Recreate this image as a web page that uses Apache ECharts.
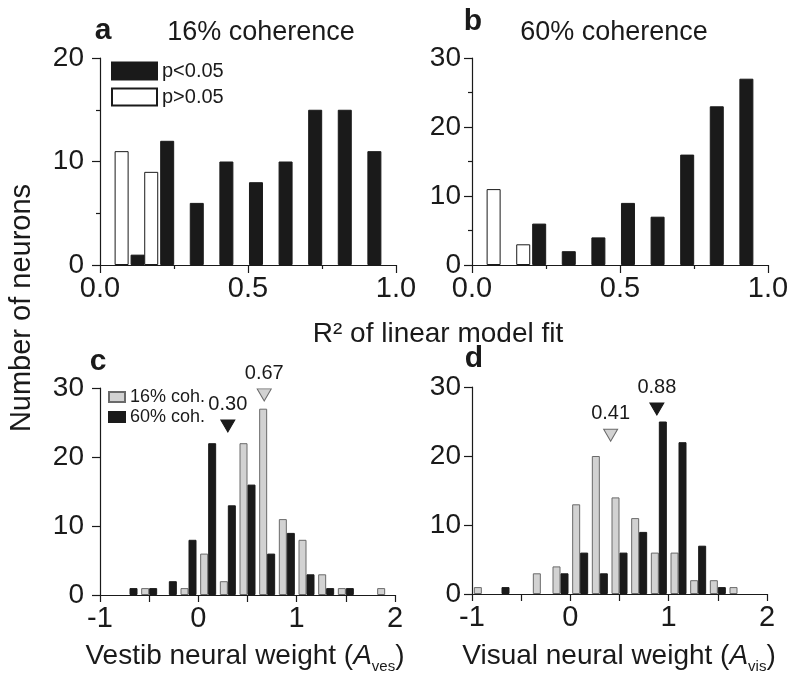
<!DOCTYPE html>
<html lang="en">
<head>
<meta charset="UTF-8">
<title>Linear model fit and neural weights</title>
<style>
  html, body { margin: 0; padding: 0; background: #fff; }
  #main { width: 800px; height: 680px; }
</style>
</head>
<body>
<div id="main"></div>
<script src="https://cdn.jsdelivr.net/npm/echarts@6/dist/echarts.min.js"></script>
<script>
// R^2 histograms (bins centred on 0.1 ... 0.9)
var binsR2 = [0.1, 0.2, 0.3, 0.4, 0.5, 0.6, 0.7, 0.8, 0.9];
var a16Sig = [1, 12, 6, 10, 8, 10, 15, 15, 11];
var a16NotSig = [11, 9, 0, 0, 0, 0, 0, 0, 0];
var b60Sig = [0, 6, 2, 4, 9, 7, 16, 23, 27];
var b60NotSig = [11, 3, 0, 0, 0, 0, 0, 0, 0];

// neural weight histograms (bins centred on -0.9 ... 1.9)
var binsW = [-0.9, -0.7, -0.5, -0.3, -0.1, 0.1, 0.3, 0.5, 0.7, 0.9, 1.1, 1.3, 1.5, 1.7, 1.9];
var vesLow = [0, 0, 1, 0, 1, 6, 2, 22, 27, 11, 8, 3, 1, 0, 1];
var vesHigh = [0, 1, 1, 2, 8, 22, 13, 16, 6, 9, 3, 1, 1, 0, 0];
var visLow = [1, 0, 0, 3, 4, 13, 20, 14, 11, 6, 6, 2, 2, 1, 0];
var visHigh = [0, 1, 0, 0, 3, 6, 3, 6, 9, 25, 22, 7, 1, 0, 0];

// medians, drawn as triangles above the bars
var vesMedian = [0.67, 0.30];   // 16%, 60%
var vesMarkY = [29, 24.5];
var visMedian = [0.41, 0.88];
var visMarkY = [23, 26.8];

var FONT = 'Liberation Sans';
var INK = '#1a1a1a';

function pairs(bins, vals) {
    var out = [];
    for (var i = 0; i < bins.length; i++) {
        if (vals[i] > 0) out.push([bins[i], vals[i]]);
    }
    return out;
}

function xAxisR2(idx) {
    return {
        type: 'value', gridIndex: idx, min: 0, max: 1, interval: 0.5,
        axisLine: { onZero: false, lineStyle: { color: INK, width: 1.2 } },
        axisTick: { length: 8, lineStyle: { color: INK, width: 1.2 } },
        minorTick: { show: true, splitNumber: 2, length: 4, lineStyle: { color: INK, width: 1.2 } },
        splitLine: { show: false },
        axisLabel: { fontFamily: FONT, fontSize: 29, color: INK, margin: 9,
            formatter: function (v) { return v.toFixed(1); } }
    };
}
function xAxisW(idx) {
    return {
        type: 'value', gridIndex: idx, min: -1, max: 2, interval: 0.5,
        axisLine: { onZero: false, lineStyle: { color: INK, width: 1.2 } },
        axisTick: { length: 7, lineStyle: { color: INK, width: 1.2 } },
        splitLine: { show: false },
        axisLabel: { fontFamily: FONT, fontSize: 29, color: INK, margin: 9,
            formatter: function (v) { return v % 1 === 0 ? String(v) : ''; } }
    };
}
function yAxis(idx, max, minor, margin) {
    return {
        type: 'value', gridIndex: idx, min: 0, max: max, interval: 10,
        axisLine: { show: true, onZero: false, lineStyle: { color: INK, width: 1.2 } },
        axisTick: { show: true, length: 8, lineStyle: { color: INK, width: 1.2 } },
        minorTick: { show: minor, splitNumber: 2, length: 4, lineStyle: { color: INK, width: 1.2 } },
        splitLine: { show: false },
        axisLabel: { fontFamily: FONT, fontSize: 28, color: INK, margin: margin }
    };
}

var blackStyle = { color: INK, borderColor: INK, borderWidth: 1, opacity: 1 };
var whiteStyle = { color: '#ffffff', borderColor: INK, borderWidth: 1, opacity: 1 };
var grayStyle = { color: '#d2d2d2', borderColor: '#6a6a6a', borderWidth: 1, opacity: 1 };

function bars(name, x, y, data, style, width, gap) {
    return {
        name: name, type: 'bar', xAxisIndex: x, yAxisIndex: y,
        barWidth: width, barGap: gap, data: data, itemStyle: style
    };
}
function marker(x, y, xs, ys, style) {
    var data = [];
    for (var i = 0; i < xs.length; i++) data.push({ value: [xs[i], ys[i]], itemStyle: style[i] });
    return {
        type: 'scatter', xAxisIndex: x, yAxisIndex: y, z: 5,
        symbol: 'path://M0,0 L12,0 L6,10 Z', symbolSize: [14, 12],
        itemStyle: { opacity: 1 },
        data: data,
        label: {
            show: true, position: 'top', distance: 5,
            fontFamily: FONT, fontSize: 20, color: INK,
            formatter: function (p) { return p.value[0].toFixed(2); }
        }
    };
}

function txt(x, y, text, font, extra) {
    var st = { text: text, font: font, fill: INK,
        align: 'center', verticalAlign: 'middle',
        textAlign: 'center', textVerticalAlign: 'middle' };
    if (extra) for (var k in extra) st[k] = extra[k];
    return { type: 'text', x: x, y: y, style: st };
}

var subRich = {
    n: { fontFamily: FONT, fontSize: 28, lineHeight: 36, fill: INK },
    i: { fontFamily: FONT, fontSize: 28, lineHeight: 36, fontStyle: 'italic', fill: INK },
    s: { fontFamily: FONT, fontSize: 15, lineHeight: 15, verticalAlign: 'bottom', fill: INK }
};

var chart = echarts.init(document.getElementById('main'));
var option = {
    animation: false,
    backgroundColor: '#ffffff',
    textStyle: { fontFamily: FONT },
    grid: [
        { left: 100, top: 58, width: 296, height: 207 },
        { left: 472, top: 58, width: 296, height: 207 },
        { left: 100, top: 388, width: 295, height: 207 },
        { left: 472, top: 387, width: 295, height: 207 }
    ],
    xAxis: [xAxisR2(0), xAxisR2(1), xAxisW(2), xAxisW(3)],
    yAxis: [yAxis(0, 20, true, 16), yAxis(1, 30, true, 11), yAxis(2, 30, false, 16), yAxis(3, 30, false, 11)],
    legend: [
        {
            data: ['p<0.05', 'p>0.05'], orient: 'vertical', left: 106, top: 56,
            itemWidth: 45, itemHeight: 17, itemGap: 6, icon: 'rect',
            textStyle: { fontFamily: FONT, fontSize: 20, color: INK }, selectedMode: false
        },
        {
            data: ['16% coh.', '60% coh.'], orient: 'vertical', left: 103, top: 383,
            itemWidth: 16, itemHeight: 10, itemGap: 2, icon: 'rect',
            textStyle: { fontFamily: FONT, fontSize: 18, color: INK }, selectedMode: false
        }
    ],
    series: [
        bars('p>0.05', 0, 0, pairs(binsR2, a16NotSig), whiteStyle, 14, '14%'),
        bars('p<0.05', 0, 0, pairs(binsR2, a16Sig), blackStyle, 14, '14%'),
        bars('p>0.05', 1, 1, pairs(binsR2, b60NotSig), whiteStyle, 14, '14%'),
        bars('p<0.05', 1, 1, pairs(binsR2, b60Sig), blackStyle, 14, '14%'),
        bars('16% coh.', 2, 2, pairs(binsW, vesLow), grayStyle, 8, '0%'),
        bars('60% coh.', 2, 2, pairs(binsW, vesHigh), blackStyle, 8, '0%'),
        bars('16% coh.', 3, 3, pairs(binsW, visLow), grayStyle, 8, '0%'),
        bars('60% coh.', 3, 3, pairs(binsW, visHigh), blackStyle, 8, '0%'),
        marker(2, 2, vesMedian, vesMarkY, [grayStyle, blackStyle]),
        marker(3, 3, visMedian, visMarkY, [grayStyle, blackStyle])
    ],
    graphic: [
        txt(103, 31, 'a', 'bold 30px ' + FONT),
        txt(473, 22, 'b', 'bold 30px ' + FONT),
        txt(98, 362, 'c', 'bold 30px ' + FONT),
        txt(474, 359, 'd', 'bold 30px ' + FONT),
        txt(261, 33, '16% coherence', '27px ' + FONT),
        txt(614, 33, '60% coherence', '27px ' + FONT),
        txt(438, 334, 'R\u00b2 of linear model fit', '28px ' + FONT),
        txt(245, 656, '{n|Vestib neural weight (}{i|A}{s|ves}{n|)}', '28px ' + FONT, { rich: subRich }),
        txt(619, 656, '{n|Visual neural weight (}{i|A}{s|vis}{n|)}', '28px ' + FONT, { rich: subRich }),
        { type: 'text', x: 22, y: 308, rotation: Math.PI / 2,
          style: { text: 'Number of neurons', font: '29px ' + FONT, fill: INK,
                   align: 'center', verticalAlign: 'middle',
                   textAlign: 'center', textVerticalAlign: 'middle' } }
    ]
};
chart.setOption(option);
</script>
</body>
</html>
